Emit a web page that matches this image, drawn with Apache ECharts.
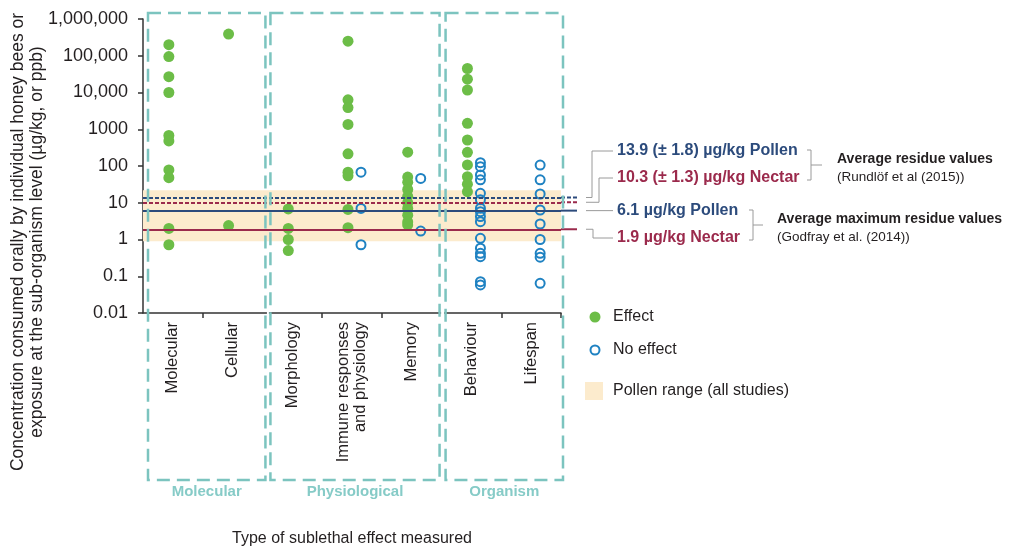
<!DOCTYPE html>
<html><head><meta charset="utf-8">
<script src="https://cdn.jsdelivr.net/npm/echarts@6/dist/echarts.min.js"></script>
<style>html,body{margin:0;padding:0;background:#fff}#c{width:1013px;height:552px}</style>
</head><body><div id="c"></div>
<script>
// ---- data ----
const categories = ['Molecular', 'Cellular', 'Morphology', 'Immune responses\nand physiology', 'Memory', 'Behaviour', 'Lifespan'];
const groupNames = ['Molecular', 'Physiological', 'Organism'];
const groupFirstCat = [0, 2, 5];
const groupLastCat = [1, 4, 6];
const yTickLabels = ['0.01', '0.1', '1', '10', '100', '1000', '10,000', '100,000', '1,000,000'];

const effectMolecular = [200000, 95000, 27000, 10000, 680, 480, 78, 48, 2, 0.72];
const effectCellular = [390000, 2.4];
const effectMorphology = [6.8, 2, 1, 0.5];
const effectImmune = [250000, 6300, 3900, 1350, 215, 68, 54, 6.6, 2.1];
const effectMemory = [237, 50, 36, 23, 15, 10, 7, 4.6, 3, 2.5];
const effectBehaviour = [45000, 23000, 11700, 1450, 510, 236, 107, 51, 32, 20];

const noEffectImmune = [68, 7, 0.72];
const noEffectMemory = [46, 1.7];
const noEffectBehaviour = [123, 96, 57, 42, 18, 12, 7.1, 5.7, 4.2, 3.05, 1.08, 0.58, 0.42, 0.34, 0.071, 0.058];
const noEffectLifespan = [106, 42, 17.3, 6.35, 2.64, 1.0, 0.42, 0.33, 0.064];

const pollenRange = [0.9, 22];
const refValues = [13.9, 10.3, 6.1, 1.9];
const refLabels = ['13.9 (\u00b1 1.8) \u00b5g/kg Pollen', '10.3 (\u00b1 1.3) \u00b5g/kg Nectar', '6.1 \u00b5g/kg Pollen', '1.9 \u00b5g/kg Nectar'];

// ---- styles ----
const FONT = '"Liberation Sans", Arial, Helvetica, sans-serif';
const GREEN = '#6cbd47', BLUE = '#1f82c2', NAVY = '#2c4b7c', RED = '#9b2a4c';
const BAND = '#fcebcd', TEAL = '#7cc4bf', TEAL_TXT = '#86cbc7', GREY = '#9a9a9a', TXT = '#231f20';
const refColors = [NAVY, RED, NAVY, RED];
const refDash = [[4, 2], [4, 2], 'solid', 'solid'];

function pairs(idx, arr) { return arr.map(v => [idx, v]); }
const effectData = [].concat(
  pairs(0, effectMolecular), pairs(1, effectCellular), pairs(2, effectMorphology),
  pairs(3, effectImmune), pairs(4, effectMemory), pairs(5, effectBehaviour));
const noEffectData = [].concat(
  pairs(3, noEffectImmune), pairs(4, noEffectMemory), pairs(5, noEffectBehaviour), pairs(6, noEffectLifespan));

const chart = echarts.init(document.getElementById('c'), null, {renderer: 'canvas'});
const option = {
  animation: false,
  textStyle: {fontFamily: FONT},
  grid: {left: 143, right: 452, top: 19, bottom: 239, containLabel: false},
  xAxis: {
    type: 'category', data: categories,
    name: 'Type of sublethal effect measured', nameLocation: 'middle', nameGap: 218,
    nameTextStyle: {fontSize: 16, color: TXT, fontFamily: FONT},
    axisLine: {show: true, lineStyle: {color: '#333', width: 1.5}},
    axisTick: {show: true, length: 5, lineStyle: {color: '#333', width: 1.5},
      interval: function (i) { return i === 1 || i === 3 || i === 4 || i === 6; }},
    axisLabel: {rotate: 90, interval: 0, margin: 9, fontSize: 16.5, color: TXT, fontFamily: FONT, lineHeight: 17},
    splitLine: {show: false}
  },
  yAxis: {
    type: 'log', logBase: 10, min: 0.01, max: 1000000,
    axisLine: {show: true, lineStyle: {color: '#333', width: 1.5}},
    axisTick: {show: true, length: 5, lineStyle: {color: '#333', width: 1.5}},
    axisLabel: {fontSize: 18, color: TXT, margin: 15, fontFamily: FONT,
      formatter: function (v) { return yTickLabels[Math.round(Math.log10(v)) + 2]; }},
    splitLine: {show: false}, minorTick: {show: false}
  },
  series: [
    {
      name: 'Pollen range (all studies)', type: 'scatter', data: [], z: 1, silent: true,
      markArea: {silent: true, itemStyle: {color: BAND}, data: [[{yAxis: pollenRange[0]}, {yAxis: pollenRange[1]}]]}
    },
    {
      name: 'Residue values', type: 'scatter', data: [], z: 2, silent: true,
      markLine: {silent: true, symbol: 'none', label: {show: false},
        data: refValues.map((v, i) => ({yAxis: v, lineStyle: {color: refColors[i], width: 2, type: refDash[i]}}))}
    },
    {
      name: 'Effect', type: 'scatter', data: effectData, z: 3,
      symbol: 'circle', symbolSize: 11, symbolOffset: [-4, 0],
      itemStyle: {color: GREEN, opacity: 1}
    },
    {
      name: 'No effect', type: 'scatter', data: noEffectData, z: 4,
      symbol: 'circle', symbolSize: 9, symbolOffset: [9, 0],
      itemStyle: {color: 'rgba(255,255,255,0)', borderColor: BLUE, borderWidth: 2, opacity: 1}
    }
  ]
};
chart.setOption(option);

// ---- annotations positioned through the chart's own scales ----
const yPix = v => chart.convertToPixel({yAxisIndex: 0}, v);
const xPix = i => chart.convertToPixel({xAxisIndex: 0}, i);
const band = xPix(1) - xPix(0);
const edge = i => xPix(i) - band / 2;          // left edge of category i
const gridRight = edge(categories.length);
const gridTop = yPix(1000000), axisY = yPix(0.01);

const g = [];
// dashed group boxes
const insetL = [5, 8, 4], insetR = [3, -2, 2];
const boxTop = gridTop - 6, boxBottom = axisY + 167;
groupNames.forEach((name, k) => {
  const l = edge(groupFirstCat[k]) + insetL[k];
  const r = edge(groupLastCat[k] + 1) + insetR[k];
  g.push({type: 'rect', z: 10, silent: true, shape: {x: l, y: boxTop, width: r - l, height: boxBottom - boxTop},
    style: {fill: 'none', stroke: TEAL, lineWidth: 2.5, lineDash: [13, 7]}});
  g.push({type: 'text', z: 10, silent: true, x: (l + r) / 2, y: boxBottom + 12,
    style: {text: name, fill: TEAL_TXT, font: 'bold 15px ' + FONT, textAlign: 'center', textVerticalAlign: 'middle'}});
  if (k > 0) {
    const prevR = edge(groupLastCat[k - 1] + 1) + insetR[k - 1];
    g.push({type: 'rect', z: 9, silent: true, shape: {x: prevR + 1.5, y: axisY - 2, width: l - prevR - 3, height: 4},
      style: {fill: '#fff'}});
  }
});

// reference line extensions beyond the plot
const extEnd = gridRight + 16;
refValues.forEach((v, i) => {
  const y = yPix(v);
  g.push({type: 'line', z: 5, silent: true, shape: {x1: gridRight, y1: y, x2: extEnd, y2: y},
    style: {stroke: refColors[i], lineWidth: 2, lineDash: refDash[i] === 'solid' ? null : refDash[i]}});
});

// connectors and labels
const cStart = extEnd + 9, textX = 617, lineEndX = 613;
const textY = [151, 178, 211, 238];
const elbowX = [592, 599, null, 593];
refValues.forEach((v, i) => {
  const y = yPix(v);
  let pts;
  if (elbowX[i] === null) pts = [[cStart, y], [lineEndX, y]];
  else pts = [[cStart, y], [elbowX[i], y], [elbowX[i], textY[i]], [lineEndX, textY[i]]];
  g.push({type: 'polyline', z: 5, silent: true, shape: {points: pts}, style: {stroke: GREY, lineWidth: 1, fill: null}});
  g.push({type: 'text', z: 5, silent: true, x: textX, y: textY[i],
    style: {text: refLabels[i], fill: refColors[i], font: 'bold 16px ' + FONT, textVerticalAlign: 'middle'}});
});

// brackets
function bracket(x, y1, y2, tickLen) {
  const ym = (y1 + y2) / 2;
  g.push({type: 'polyline', z: 5, silent: true, shape: {points: [[x - 4, y1], [x, y1], [x, y2], [x - 4, y2]]},
    style: {stroke: GREY, lineWidth: 1, fill: null}});
  g.push({type: 'line', z: 5, silent: true, shape: {x1: x, y1: ym, x2: x + tickLen, y2: ym}, style: {stroke: GREY, lineWidth: 1}});
}
bracket(811, 150, 180, 11);
bracket(753, 210, 240, 10);
g.push({type: 'text', z: 5, silent: true, x: 837, y: 159, style: {text: 'Average residue values', fill: TXT, font: 'bold 14px ' + FONT, textVerticalAlign: 'middle'}});
g.push({type: 'text', z: 5, silent: true, x: 837, y: 177, style: {text: '(Rundl\u00f6f et al (2015))', fill: TXT, font: '13.5px ' + FONT, textVerticalAlign: 'middle'}});
g.push({type: 'text', z: 5, silent: true, x: 777, y: 219, style: {text: 'Average maximum residue values', fill: TXT, font: 'bold 14px ' + FONT, textVerticalAlign: 'middle'}});
g.push({type: 'text', z: 5, silent: true, x: 777, y: 237, style: {text: '(Godfray et al. (2014))', fill: TXT, font: '13.5px ' + FONT, textVerticalAlign: 'middle'}});

// legend
g.push({type: 'circle', z: 5, silent: true, shape: {cx: 595, cy: 317, r: 5.5}, style: {fill: GREEN}});
g.push({type: 'circle', z: 5, silent: true, shape: {cx: 595, cy: 350, r: 4.5}, style: {fill: 'none', stroke: BLUE, lineWidth: 2}});
g.push({type: 'rect', z: 5, silent: true, shape: {x: 585, y: 382, width: 18, height: 18}, style: {fill: BAND}});
[['Effect', 317], ['No effect', 350], ['Pollen range (all studies)', 391]].forEach(([t, y]) => {
  g.push({type: 'text', z: 5, silent: true, x: 613, y: y, style: {text: t, fill: TXT, font: '16px ' + FONT, textVerticalAlign: 'middle'}});
});

// y-axis title
g.push({type: 'text', z: 5, silent: true, x: 28, y: 242, rotation: Math.PI / 2,
  style: {text: 'Concentration consumed orally by individual honey bees or\nexposure at the sub-organism level (\u00b5g/kg, or ppb)',
    fill: TXT, font: '17.5px ' + FONT, textAlign: 'center', textVerticalAlign: 'middle', lineHeight: 19}});

chart.setOption({graphic: {elements: g}});
</script>
</body></html>
